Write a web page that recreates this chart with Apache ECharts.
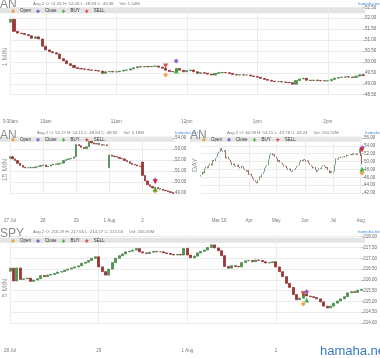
<!DOCTYPE html>
<html>
<head>
<meta charset="utf-8">
<script src="https://cdn.jsdelivr.net/npm/echarts@6/dist/echarts.min.js"></script>
<style>html,body{margin:0;padding:0;background:#fff;}#chart{width:380px;height:358px;}</style>
</head>
<body>
<div id="chart"></div>
<script>
// ---------- Panel 1: AN, 1 MIN (read every 3 minutes) ----------
const p1Open = 51.82;
const p1Close = [
 51.95,51.40,51.32,51.30,51.25,51.20,51.08,51.15,51.05,50.72,
 50.55,50.47,50.42,50.36,50.15,50.05,49.92,49.84,49.74,49.70,
 49.68,49.66,49.63,49.62,49.60,49.58,49.48,49.55,49.56,49.54,
 49.55,49.58,49.62,49.63,49.68,49.73,49.78,49.77,49.79,49.78,
 49.80,49.81,49.76,49.71,49.62,49.56,49.55,49.70,49.62,49.55,
 49.60,49.63,49.55,49.48,49.51,49.48,49.44,49.40,49.47,49.51,
 49.52,49.51,49.47,49.42,49.40,49.41,49.40,49.40,49.36,49.33,
 49.30,49.25,49.20,49.16,49.12,49.10,49.10,49.08,49.06,49.05,
 48.98,49.15,49.22,49.25,49.16,49.15,49.17,49.15,49.14,49.13,
 49.14,49.20,49.26,49.29,49.30,49.32,49.31,49.29,49.35,49.41,
 49.38];
const p1TickCats = ['9:30','10:00','11:00','12:00','13:00','14:00'];
const p1TickLabels = ['9:30am','10am','11am','12pm','1pm','2pm'];
const p1MarkOpen = [[44, 49.40]];
const p1MarkClose = [[47, 50.04]];
const p1MarkBuy = [[47, 49.58]];
const p1MarkSell = [[44, 49.81]];

// ---------- Panel 2: AN, 15 MIN (read every 30 minutes) ----------
const p2Days = ['27 Jul','28','29','1 Aug','2'];
const p2Open = 52.15;
const p2Gaps = [[26, 52.30],[39, 51.30],[52, 51.82]];
const p2Close = [
 52.30,52.10,51.95,51.70,51.50,51.35,51.28,51.30,51.32,51.30,51.38,51.42,51.50,
 51.55,51.40,51.45,51.55,51.62,51.60,51.70,51.72,51.95,52.05,52.10,52.15,52.28,
 53.40,53.30,53.15,53.05,53.20,53.70,53.55,53.45,53.50,53.40,53.35,53.38,53.30,
 52.45,52.35,52.30,52.25,52.15,52.10,51.95,51.85,51.70,51.60,51.55,51.45,51.40,
 50.60,50.10,49.75,49.60,49.45,49.50,49.40,49.35,49.25,49.20,49.12,49.05,48.95];
const p2MarkOpen = [[57, 49.18]];
const p2MarkClose = [[57, 50.18]];
const p2MarkBuy = [[57, 49.36]];
const p2MarkSell = [[57, 50.00]];

// ---------- Panel 3: AN, DAY ----------
const p3Open = 46.2;
const p3Gaps = [[124, 51.82]];
const p3Close = [
 46.6,47.4,47.0,48.2,48.7,48.3,49.1,49.5,49.0,50.4,
 50.1,50.9,51.2,52.0,52.5,53.4,52.8,52.5,52.9,50.8,
 51.2,50.6,50.4,49.8,49.1,49.5,48.9,48.7,49.2,48.6,
 48.3,48.9,48.7,48.2,47.9,47.4,47.8,46.6,46.9,46.2,
 45.7,45.2,44.8,44.5,45.3,46.2,46.0,46.9,47.4,48.3,
 48.8,49.1,50.6,51.7,52.1,51.6,51.9,51.2,50.8,50.0,
 50.4,49.8,49.6,49.2,48.7,48.9,48.3,47.9,48.2,47.6,
 47.4,47.8,47.9,48.4,48.9,49.1,49.8,50.4,50.1,50.6,
 50.4,50.0,50.3,49.6,49.1,48.8,48.3,48.6,47.9,47.4,
 47.8,48.3,48.1,48.7,49.1,48.8,48.3,48.6,47.8,47.0,
 47.6,47.2,47.4,49.2,50.8,50.5,51.0,51.2,50.9,51.2,
 51.4,51.1,51.7,51.5,51.7,51.9,51.6,52.1,51.8,52.0,
 51.7,52.2,53.3,51.4,49.24];
const p3TickCats = ['2016-03-01','2016-04-01','2016-05-02','2016-06-01','2016-07-01','2016-08-01'];
const p3TickLabels = ["Mar '16",'Apr','May','Jun','Jul','Aug'];
const p3MarkOpen = [[124, 47.09]];
const p3MarkClose = [[124, 53.53]];
const p3MarkBuy = [[124, 48.11]];
const p3MarkSell = [[124, 52.87]];

// ---------- Panel 4: SPY, 5 MIN (read every 15 minutes) ----------
const p4Days = ['28 Jul','29','1 Aug','2'];
const p4Open = 216.40;
const p4Close = [
 216.54,215.95,216.55,216.02,216.05,216.08,215.93,215.99,216.05,216.20,216.15,216.22,216.25,
 216.30,216.36,216.38,216.45,216.50,216.55,216.60,216.65,216.77,216.82,216.90,217.00,217.07,
 216.60,216.38,216.22,216.50,216.80,217.00,217.12,217.20,217.30,217.33,217.38,217.45,217.30,
 217.25,217.22,217.28,217.32,217.30,217.30,217.25,217.22,217.18,217.15,217.18,217.15,217.46,
 217.15,217.02,217.10,217.25,217.32,217.38,217.50,217.62,217.48,217.35,217.12,216.62,216.54,
 216.66,216.62,216.60,216.80,216.88,216.90,216.84,216.92,216.90,216.84,216.78,216.80,216.84,
 216.60,216.38,216.15,215.84,215.65,215.32,215.08,215.15,215.35,215.25,215.22,215.18,215.12,
 214.98,214.78,214.70,214.78,214.92,215.02,215.12,215.22,215.40,215.45,215.42,215.52,215.56];
const p4MarkOpen = [[86, 214.88]];
const p4MarkClose = [[87, 215.45]];
const p4MarkBuy = [[87, 215.07]];
const p4MarkSell = [[86, 215.35]];

// ---------- helpers ----------
function ohlc(open0, closes, gaps) {
  const g = {}; (gaps || []).forEach(function (p) { g[p[0]] = p[1]; });
  let prev = open0;
  return closes.map(function (c, i) {
    const o = (g[i] !== undefined) ? g[i] : prev; prev = c;
    return [o, c, Math.min(o, c), Math.max(o, c)];
  });
}
const p1Cats = p1Close.map(function (_, i) { const m = 570 + 3 * i; return Math.floor(m / 60) + ':' + String(m % 60).padStart(2, '0'); });
const p2Cats = []; p2Days.forEach(function (d) { for (let s = 0; s < 13; s++) p2Cats.push(d + '|' + s); });
const p2TickCats = p2Days.map(function (d) { return d + '|0'; });
const p4Cats = []; p4Days.forEach(function (d) { for (let s = 0; s < 26; s++) p4Cats.push(d + '|' + s); });
const p4TickCats = p4Days.map(function (d) { return d + '|0'; });
const p3Cats = [];
(function () { const d = new Date(Date.UTC(2016, 1, 10)); while (p3Cats.length < p3Close.length) { const w = d.getUTCDay(); if (w !== 0 && w !== 6) p3Cats.push(d.toISOString().slice(0, 10)); d.setUTCDate(d.getUTCDate() + 1); } })();

const FONT = 'Arial, "Liberation Sans", sans-serif';
const UP = '#4e9a4e', DOWN = '#a83232', UPB = '#3f7f3f', DOWNB = '#862828';
const C_OPEN = '#f39019', C_CLOSE = '#7b3fc6', C_BUY = '#25a525', C_SELL = '#d41f1f';
const buyIcon = 'path://M5,0 L10,7 L0,7 Z M4,7 L6,7 L6,10 L4,10 Z';
const sellIcon = 'path://M0,3 L10,3 L5,10 Z M4,0 L6,0 L6,3 L4,3 Z';

function xAxisFor(idx, cats, tickCats, tickLabels) {
  const set = {}; tickCats.forEach(function (c, i) { set[c] = tickLabels[i]; });
  const f = function (i, v) { return set[v] !== undefined; };
  return {
    type: 'category', gridIndex: idx, data: cats, boundaryGap: false,
    axisLine: { show: false }, axisTick: { show: false },
    axisLabel: { interval: f, formatter: function (v) { return set[v] || ''; }, fontSize: 4.5, color: '#777', margin: 25, fontFamily: FONT },
    splitLine: { show: true, interval: f, lineStyle: { color: '#ececec', width: 1 } }
  };
}
function yAxisFor(idx, min, max, step) {
  return {
    type: 'value', gridIndex: idx, position: 'right', min: min, max: max, interval: step, scale: true,
    axisLine: { show: false }, axisTick: { show: true, length: 2, lineStyle: { color: '#999', width: 0.6 } },
    axisLabel: { fontSize: 4.5, color: '#666', margin: 2, fontFamily: FONT, formatter: function (v) { return v.toFixed(2); } },
    splitLine: { lineStyle: { color: '#ececec', width: 1 } }
  };
}
function candles(idx, data, w) {
  return { type: 'candlestick', xAxisIndex: idx, yAxisIndex: idx, data: data, barWidth: w, clip: false,
    itemStyle: { color: UP, color0: DOWN, borderColor: UPB, borderColor0: DOWNB, borderWidth: 0.7 } };
}
function marks(idx, o, c, b, s) {
  const base = { type: 'scatter', xAxisIndex: idx, yAxisIndex: idx, clip: false, symbolSize: 5, z: 5 };
  return [
    Object.assign({}, base, { name: 'Open', data: o, symbol: 'diamond', itemStyle: { color: C_OPEN } }),
    Object.assign({}, base, { name: 'Close', data: c, symbol: 'diamond', itemStyle: { color: C_CLOSE } }),
    Object.assign({}, base, { name: 'BUY', data: b, symbol: 'triangle', itemStyle: { color: C_BUY } }),
    Object.assign({}, base, { name: 'SELL', data: s, symbol: 'triangle', symbolRotate: 180, itemStyle: { color: C_SELL } })
  ];
}
function legendAt(left, top) {
  return { left: left, top: top, padding: 0, itemGap: 5, itemWidth: 4, itemHeight: 4, selectedMode: false,
    textStyle: { fontSize: 4.5, color: '#333', fontFamily: FONT },
    data: [{ name: 'Open', icon: 'diamond' }, { name: 'Close', icon: 'diamond' }, { name: 'BUY', icon: buyIcon }, { name: 'SELL', icon: sellIcon }] };
}
function txt(x, y, text, size, color, extra) {
  return Object.assign({ type: 'text', x: x, y: y, silent: true, style: { text: text, fontSize: size, fill: color, fontFamily: FONT } }, extra || {});
}
function vtxt(x, y, text) {
  return { type: 'text', x: x, y: y, rotation: Math.PI / 2, silent: true,
    style: { text: text, fontSize: 7, fill: '#999', fontFamily: FONT, align: 'center', verticalAlign: 'middle' } };
}
function band(x, y, w, h) { return { type: 'rect', shape: { x: x, y: y, width: w, height: h }, style: { fill: '#e4e4e4' }, silent: true, z: -10 }; }

const chart = echarts.init(document.getElementById('chart'));
chart.setOption({
  animation: false,
  backgroundColor: '#fff',
  grid: [
    { left: 10, top: 7.3, width: 353, height: 87.4 },
    { left: 10, top: 138, width: 163, height: 55 },
    { left: 201, top: 138, width: 161, height: 55 },
    { left: 10, top: 236.7, width: 353, height: 86.3 }
  ],
  xAxis: [
    xAxisFor(0, p1Cats, p1TickCats, p1TickLabels),
    xAxisFor(1, p2Cats, p2TickCats, p2Days),
    xAxisFor(2, p3Cats, p3TickCats, p3TickLabels),
    xAxisFor(3, p4Cats, p4TickCats, p4Days)
  ],
  yAxis: [
    yAxisFor(0, 48.5, 52.5, 0.5),
    yAxisFor(1, 49, 54, 1),
    yAxisFor(2, 42, 56, 2),
    yAxisFor(3, 214, 218, 0.5)
  ],
  legend: [legendAt(11, 8.7), legendAt(11, 137.2), legendAt(202, 137.2), legendAt(11, 238.5)],
  series: [].concat(
    [candles(0, ohlc(p1Open, p1Close), 2.6)], marks(0, p1MarkOpen, p1MarkClose, p1MarkBuy, p1MarkSell),
    [candles(1, ohlc(p2Open, p2Close, p2Gaps), 1.8)], marks(1, p2MarkOpen, p2MarkClose, p2MarkBuy, p2MarkSell),
    [candles(2, ohlc(p3Open, p3Close, p3Gaps), 1.2)], marks(2, p3MarkOpen, p3MarkClose, p3MarkBuy, p3MarkSell),
    [candles(3, ohlc(p4Open, p4Close), 2.5)], marks(3, p4MarkOpen, p4MarkClose, p4MarkBuy, p4MarkSell)
  ),
  graphic: [
    band(0, 8, 365, 5.3), band(0, 136.7, 174, 5), band(190, 136.7, 172, 5), band(0, 237.8, 365, 5),
    txt(0, -1, 'AN', 12, '#8a8a8a'),
    txt(33, 2, 'Aug 2 O: 51.82 H: 52.06 L: 48.93 C: 49.38     Vol: 1.54M', 4.3, '#777'),
    txt(358, 1.5, 'hamaha.net', 4.3, '#3c8ee0'),
    vtxt(5, 57, '1 MIN'),
    txt(0, 130, 'AN', 12, '#8a8a8a'),
    txt(37, 131, 'Aug 2 O: 52.27 H: 54.15 L: 48.84 C: 48.92     Vol: 5.18M', 4.3, '#777'),
    txt(175, 130.5, 'hamaha.net', 4.3, '#3c8ee0'),
    vtxt(5, 170, '15 MIN'),
    txt(190, 130, 'AN', 12, '#8a8a8a'),
    txt(227, 131, 'Aug 2 O: 46.58 H: 54.15 L: 43.78 C: 49.24     Vol: 164.52M', 4.3, '#777'),
    txt(365, 130.5, 'hamaha.net', 4.3, '#3c8ee0'),
    vtxt(195, 165, 'DAY'),
    txt(0, 228, 'SPY', 12, '#8a8a8a'),
    txt(33, 229.5, 'Aug 2 O: 216.29 H: 217.65 L: 214.57 C: 215.56     Vol: 256.05M', 4.3, '#777'),
    txt(358, 229.5, 'hamaha.net', 4.3, '#3c8ee0'),
    vtxt(5, 288, '5 MIN'),
    txt(320, 345, 'hamaha.net', 13, '#3a78c3')
  ]
});
</script>
</body>
</html>
